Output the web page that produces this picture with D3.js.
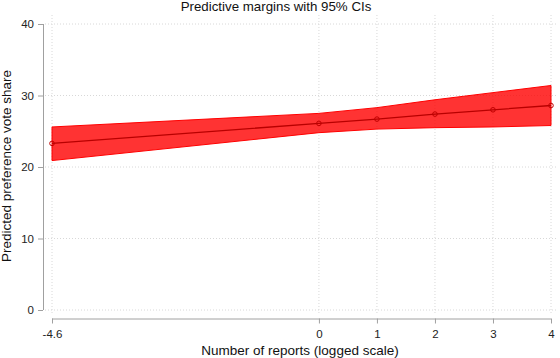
<!DOCTYPE html>
<html>
<head>
<meta charset="utf-8">
<script src="https://cdn.jsdelivr.net/npm/d3@7"></script>
<style>
  body { margin: 0; background: #fff; }
  svg { display: block; font-family: "Liberation Sans", Arial, sans-serif; }
</style>
</head>
<body>
<div id="chart"></div>
<script>
// values
var reports = [-4.6, 0, 1, 2, 3, 4];
var margin_est = [23.3, 26.1, 26.7, 27.4, 28.0, 28.6];
var ci_low = [20.9, 24.8, 25.3, 25.5, 25.6, 25.8];
var ci_high = [25.6, 27.5, 28.3, 29.4, 30.4, 31.4];
var xTicks = [-4.6, 0, 1, 2, 3, 4];
var yTicks = [0, 10, 20, 30, 40];

var width = 560, height = 358;

var svg = d3.select("#chart").append("svg")
    .attr("width", width)
    .attr("height", height);

var x = d3.scaleLinear().domain([-4.6, 4]).range([52, 551]);
var y = d3.scaleLinear().domain([0, 40]).range([310, 24]);

var data = reports.map(function(r, i) {
    return {x: r, est: margin_est[i], lo: ci_low[i], hi: ci_high[i]};
});

//gridlines
svg.append("g").selectAll("line")
    .data(yTicks).enter()
    .append("line")
    .attr("x1", 45).attr("x2", 557)
    .attr("y1", function(d) { return y(d); })
    .attr("y2", function(d) { return y(d); })
    .style("stroke", "#d8d8d8")
    .style("stroke-dasharray", "1,2");
svg.append("g").selectAll("line")
    .data(xTicks).enter()
    .append("line")
    .attr("y1", 15).attr("y2", 313)
    .attr("x1", function(d) { return x(d); })
    .attr("x2", function(d) { return x(d); })
    .style("stroke", "#d8d8d8")
    .style("stroke-dasharray", "1,2");

//CI band
var area = d3.area()
    .x(function(d) { return x(d.x); })
    .y0(function(d) { return y(d.lo); })
    .y1(function(d) { return y(d.hi); });
svg.append("path")
    .datum(data)
    .attr("d", area)
    .style("fill", "rgba(255,0,0,0.8)")
    .style("stroke", "#ff0000")
    .style("stroke-width", 1);

//estimate line and markers
var line = d3.line()
    .x(function(d) { return x(d.x); })
    .y(function(d) { return y(d.est); });
svg.append("path")
    .datum(data)
    .attr("d", line)
    .style("fill", "none")
    .style("stroke", "#b80000")
    .style("stroke-width", 1.3);
svg.append("g").selectAll("circle")
    .data(data).enter()
    .append("circle")
    .attr("cx", function(d) { return x(d.x); })
    .attr("cy", function(d) { return y(d.est); })
    .attr("r", 2.3)
    .style("fill", "none")
    .style("stroke", "#c00000")
    .style("stroke-width", 1);

//axes
var yAxis = d3.axisLeft(y).tickValues(yTicks).tickSize(5).tickPadding(4);
var gy = svg.append("g")
    .attr("transform", "translate(43,0)")
    .call(yAxis);
var xAxis = d3.axisBottom(x).tickValues(xTicks).tickSize(5).tickPadding(6)
    .tickFormat(function(d) { return d === -4.6 ? "-4.6" : d3.format("d")(d); });
var gx = svg.append("g")
    .attr("transform", "translate(0,318.5)")
    .call(xAxis);
[gx, gy].forEach(function(g) {
    g.select(".domain").attr("stroke", "#a0a0a0");
    g.selectAll(".tick line").attr("stroke", "#a0a0a0");
    g.selectAll(".tick text")
        .style("font-family", "'Liberation Sans', Arial, sans-serif")
        .style("font-size", "11.5px")
        .attr("fill", "#222");
});
gx.select(".domain").attr("d", "M" + x(-4.6) + ",0.5H" + x(4));
gy.select(".domain").attr("d", "M0.5," + y(0) + "V" + y(40));

//titles
svg.append("text")
    .attr("x", 276)
    .attr("y", 11)
    .style("text-anchor", "middle")
    .style("font-size", "13.3px")
    .attr("fill", "#111")
    .text("Predictive margins with 95% CIs");
svg.append("text")
    .attr("x", 300)
    .attr("y", 355)
    .style("text-anchor", "middle")
    .style("font-size", "13.5px")
    .attr("fill", "#111")
    .text("Number of reports (logged scale)");
svg.append("text")
    .attr("transform", "translate(11,166) rotate(-90)")
    .style("text-anchor", "middle")
    .style("font-size", "13.5px")
    .attr("fill", "#111")
    .text("Predicted preference vote share");
</script>
</body>
</html>
